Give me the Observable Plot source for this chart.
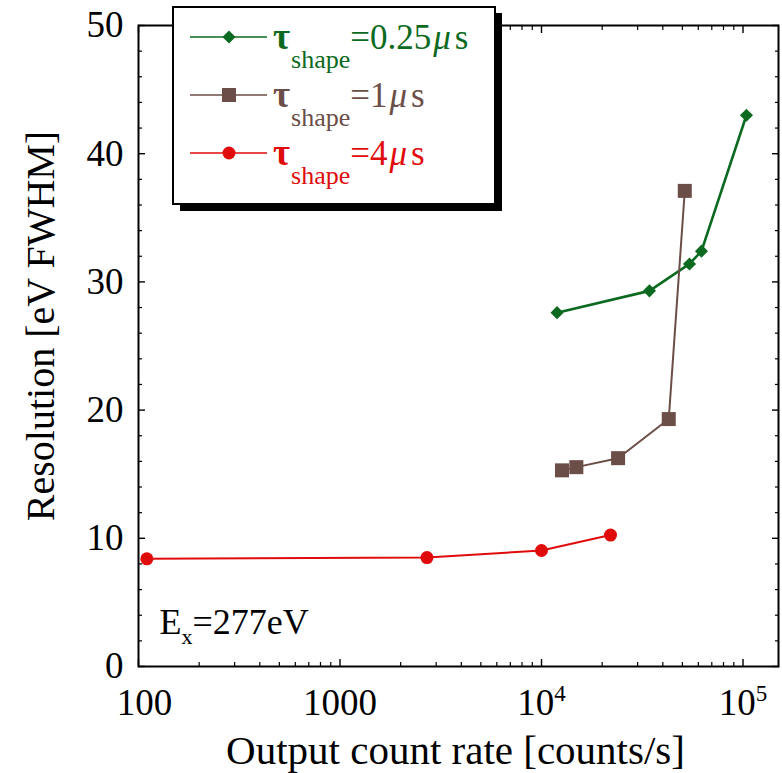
<!DOCTYPE html>
<html><head><meta charset="utf-8">
<script src="https://cdn.jsdelivr.net/npm/d3@7"></script>
<script src="https://cdn.jsdelivr.net/npm/@observablehq/plot@0.6"></script>
<style>body{margin:0;background:#fff;} #chart svg{display:block;}</style>
</head><body><div id="chart"></div>
<script>
// ---- data ----
const rate025 = [11940, 34330, 54250, 62200, 104000];
const res025  = [27.6, 29.3, 31.4, 32.4, 43.0];
const rate1   = [12640, 14890, 23990, 42800, 51400];
const res1    = [15.3, 15.55, 16.25, 19.3, 37.1];
const rate4   = [110, 2700, 10000, 22000];
const res4    = [8.4, 8.5, 9.05, 10.25];
const seriesLabels = ["0.25", "1", "4"];
const seriesColors = ["#0b6a20", "#6b4e47", "#e00b0b"];
const seriesSymbols = ["diamond2", "square", "circle"];
const xMajorTicks = [100, 1000, 10000, 100000];
const xTickLabels = ["100", "1000", "10^4", "10^5"];
const xMinorTicks = [200,300,400,500,600,700,800,900,2000,3000,4000,5000,6000,7000,8000,9000,20000,30000,40000,50000,60000,70000,80000,90000];
const yMajorTicks = [0, 10, 20, 30, 40, 50];
const yMinorTicks = [2,4,6,8,12,14,16,18,22,24,26,28,32,34,36,38,42,44,46,48];
const xTitle = "Output count rate [counts/s]";
const yTitle = "Resolution [eV FWHM]";
const annotation = "E_x=277eV";

const series = [
  {rate: rate025, res: res025},
  {rate: rate1, res: res1},
  {rate: rate4, res: res4}
].map((s, k) => s.rate.map((r, i) => ({rate: r, res: s.res[i], k})));

const symbolR = {diamond2: 5.9, square: 7.9, circle: 6.5};
const lineW = [2.6, 2, 2];
const FONT = "'Liberation Serif', 'Times New Roman', serif";

const tickAxes = [];
for (const anchor of ["bottom", "top"]) {
  tickAxes.push(Plot.axisX({anchor, ticks: xMajorTicks, tickSize: -7, tickFormat: () => "", label: null, strokeWidth: 1.4}));
  tickAxes.push(Plot.axisX({anchor, ticks: xMinorTicks, tickSize: -4, tickFormat: () => "", label: null, strokeWidth: 1.2}));
}
for (const anchor of ["left", "right"]) {
  tickAxes.push(Plot.axisY({anchor, ticks: yMajorTicks, tickSize: -7, tickFormat: () => "", label: null, strokeWidth: 1.4}));
  tickAxes.push(Plot.axisY({anchor, ticks: yMinorTicks, tickSize: -4, tickFormat: () => "", label: null, strokeWidth: 1.2}));
}

const seriesMarks = [];
series.forEach((d, k) => {
  seriesMarks.push(Plot.line(d, {x: "rate", y: "res", stroke: seriesColors[k], strokeWidth: lineW[k]}));
  seriesMarks.push(Plot.dot(d, {x: "rate", y: "res", fill: seriesColors[k], symbol: seriesSymbols[k], r: symbolR[seriesSymbols[k]]}));
});

const plot = Plot.plot({
  width: 782, height: 773,
  marginLeft: 138, marginRight: 4, marginTop: 25, marginBottom: 107,
  style: {fontFamily: FONT, background: "#fff", color: "#000", overflow: "visible"},
  x: {type: "log", domain: [100, 150000]},
  y: {domain: [0, 50]},
  marks: [
    ...tickAxes,
    Plot.axisX({anchor: "bottom", ticks: xMajorTicks, tickSize: 0, tickPadding: 22, fontSize: 37, label: null,
      tickFormat: v => xTickLabels[xMajorTicks.indexOf(v)]}),
    Plot.axisY({anchor: "left", ticks: yMajorTicks, tickSize: 0, tickPadding: 15, fontSize: 37, label: null}),
    Plot.frame({stroke: "#000", strokeWidth: 2}),
    ...seriesMarks,
    Plot.text([xTitle], {text: d => d, frameAnchor: "bottom", lineAnchor: "bottom", dx: -3, dy: 97, fontSize: 41}),
    Plot.text([yTitle], {text: d => d, frameAnchor: "left", textAnchor: "middle", rotate: -90, lineAnchor: "bottom", dx: -85, dy: -20, fontSize: 40}),
    Plot.text([annotation], {text: d => d, frameAnchor: "bottom-left", textAnchor: "start", lineAnchor: "bottom", dx: 21, dy: -33, fontSize: 36})
  ]
});
document.getElementById("chart").appendChild(plot);

// ---- rich text: superscripts (^) and subscripts (_) ----
function richify(el, basePx) {
  const t = el.textContent;
  const m = t.match(/^(.*?)([_^])(\w)(.*)$/);
  if (!m) return;
  const [, a, kind, s, b] = m;
  const sel = d3.select(el);
  sel.text(null);
  const small = Math.round(basePx * 0.62);
  const shift = kind === "^" ? -basePx * 0.38 : basePx * 0.3;
  sel.append("tspan").text(a);
  sel.append("tspan").attr("dy", shift).attr("font-size", small).text(s);
  if (b) sel.append("tspan").attr("dy", -shift).text(b);
}
const svg = d3.select(plot);
svg.selectAll("text").each(function () {
  const t = this.textContent;
  if (t.includes("^")) richify(this, 37);
  else if (t.includes("_")) richify(this, 36);
  else if (t === "100") d3.select(this).attr("dx", 6);
});

// ---- legend box with drop shadow ----
const lg = svg.append("g").attr("font-family", FONT).attr("text-anchor", "start");
lg.append("rect").attr("x", 180).attr("y", 13).attr("width", 322).attr("height", 198).attr("fill", "#000");
lg.append("rect").attr("x", 173).attr("y", 7).attr("width", 322).attr("height", 197)
  .attr("fill", "#fff").attr("stroke", "#000").attr("stroke-width", 2);
seriesLabels.forEach((lab, k) => {
  const cy = 37 + 58 * k;
  const col = seriesColors[k];
  lg.append("line").attr("x1", 190).attr("x2", 267).attr("y1", cy).attr("y2", cy)
    .attr("stroke", col).attr("stroke-width", 1.6);
  const sym = seriesSymbols[k];
  const r = symbolR[sym];
  if (sym === "circle") {
    lg.append("circle").attr("cx", 229).attr("cy", cy).attr("r", r).attr("fill", col);
  } else {
    const s = sym === "square" ? d3.symbolSquare : d3.symbolDiamond2;
    lg.append("path").attr("transform", `translate(229,${cy})`)
      .attr("d", d3.symbol(s, r * r * Math.PI)()).attr("fill", col);
  }
  const tx = lg.append("text").attr("x", 273).attr("y", cy + 12).attr("fill", col)
    .attr("font-size", 35).attr("text-anchor", "start");
  tx.append("tspan").attr("font-weight", "bold").attr("font-size", 37).text("τ");
  tx.append("tspan").attr("font-size", 26).attr("dy", 19).attr("dx", 1).text("shape");
  tx.append("tspan").attr("dy", -19).text("=" + lab);
  tx.append("tspan").attr("font-style", "italic").attr("dx", 2).text("μ");
  tx.append("tspan").attr("dx", 4).text("s");
});
</script>
</body></html>
